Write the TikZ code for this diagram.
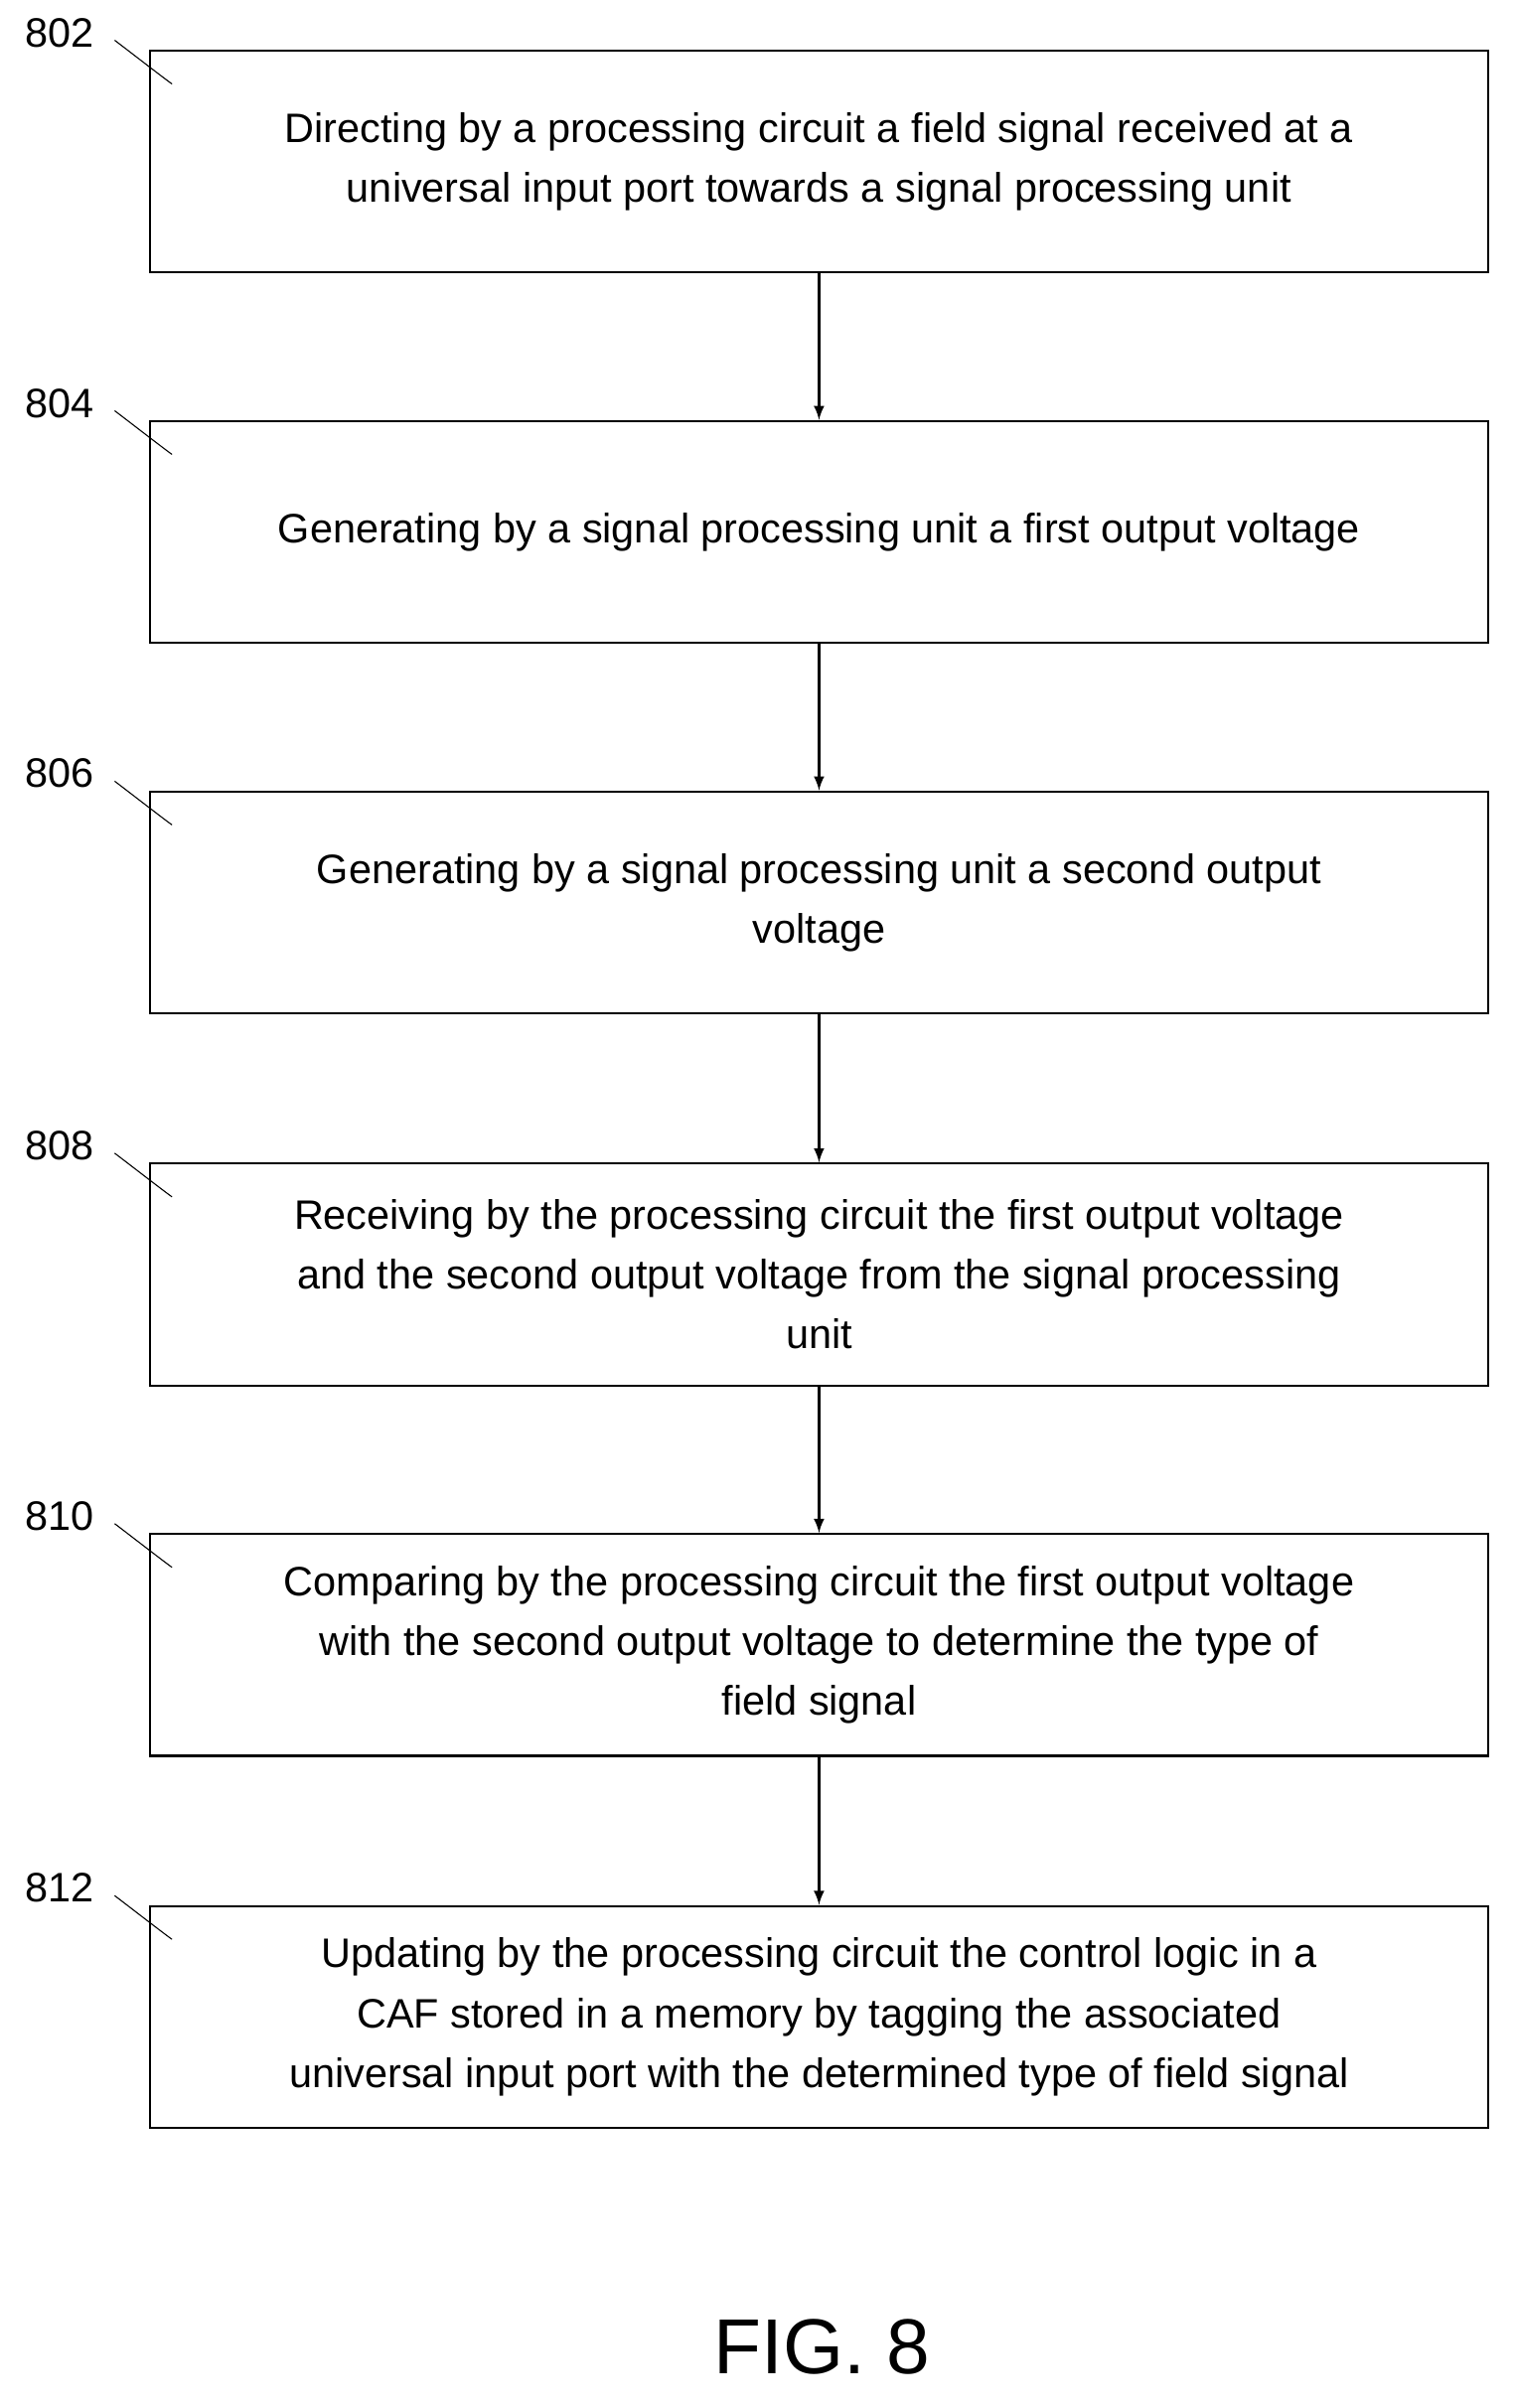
\documentclass[tikz,border=0pt]{standalone}
\usepackage{fontspec}
\setmainfont{Liberation Sans}
\begin{document}
\begin{tikzpicture}[x=0.02cm,y=-0.02cm,
    stepbox/.style={draw,thick,minimum width=17.48cm,minimum height=2.9cm,
        align=center,inner sep=0pt,font=\fontsize{15.3}{22.2}\selectfont},
    stepnum/.style={font=\fontsize{15.3}{18}\selectfont},
    flow/.style={thick,-latex}]
    \useasboundingbox (0,0) rectangle (990,1573);
    \node[stepbox] (s802) at (535,105.5) {Directing by a processing circuit a field signal received at a\\universal input port towards a signal processing unit};
    \node[stepbox] (s804) at (535,347.5) {Generating by a signal processing unit a first output voltage};
    \node[stepbox] (s806) at (535,589.5) {Generating by a signal processing unit a second output\\voltage};
    \node[stepbox] (s808) at (535,832.5) {Receiving by the processing circuit the first output voltage\\and the second output voltage from the signal processing\\unit};
    \node[stepbox] (s810) at (535,1074.5) {Comparing by the processing circuit the first output voltage\\with the second output voltage to determine the type of\\field signal};
    \node[stepbox] (s812) at (535,1317.5) {Updating by the processing circuit the control logic in a\\CAF stored in a memory by tagging the associated\\universal input port with the determined type of field signal};
    % step numbers with leaders
    \foreach \n in {802,804,806,808,810,812} {
        \node[stepnum,anchor=east] (l\n) at ([xshift=-0.6cm,yshift=0.22cm]s\n.north west) {\n};
        \draw ([xshift=0.15cm,yshift=-0.1cm]l\n.east) .. controls +(0.4,0.15) and +(0,0.4) .. ([xshift=0.3cm,yshift=-0.45cm]s\n.north west);
    }
    \foreach \a/\b in {802/804,804/806,806/808,808/810,810/812}
        \draw[flow] (s\a) -- (s\b);
    \node[font=\fontsize{29}{34}\selectfont] (fig) at (537,1533) {FIG. 8};
\end{tikzpicture}
\end{document}
